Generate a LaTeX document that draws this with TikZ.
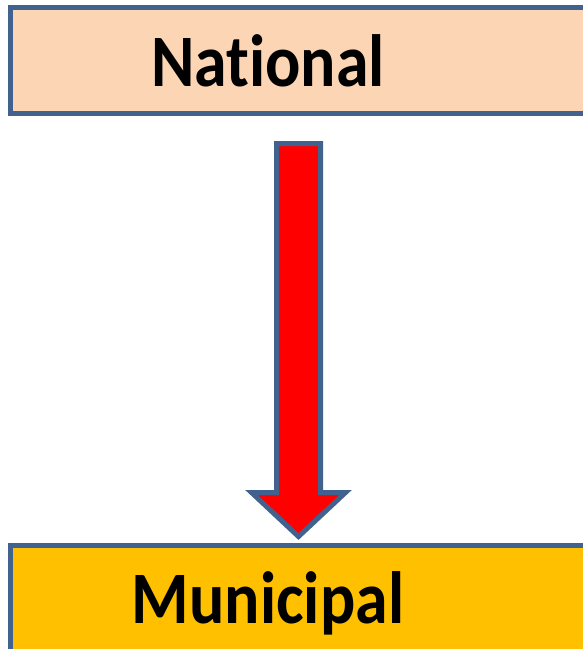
\documentclass[tikz,border=0pt]{standalone}
\usepackage{fontspec}
\setmainfont{Carlito}[RawFeature={-liga;-dlig;-clig}]
\usepackage{tikz}
\usetikzlibrary{calc}

\definecolor{edgeblue}{HTML}{41618E}
\definecolor{peach}{HTML}{FCD5B5}
\definecolor{gold}{HTML}{FFC000}

\begin{document}
\begin{tikzpicture}[x=1pt, y=1pt,
		levelbox/.style={draw=edgeblue, line width=5pt, rectangle, outer sep=0pt, anchor=north west, minimum width=620pt, minimum height=106pt},
		levellabel/.style={anchor=base, inner sep=0pt, xscale=0.89, font=\fontsize{74}{80}\selectfont\bfseries},
		fatarrow/.style={draw=edgeblue, fill=red, line width=5pt, line join=miter}]

		\useasboundingbox (0,0) rectangle (583,-649);

		\node [levelbox, fill=peach] (nat) at (10.5,-7.5) {};
		\node [levelbox, fill=gold] (mun) at (10.5,-545.5) {};

		\node [levellabel] (natText) at (268,-86) {National};
		\node [levellabel] (munText) at (268,-623) {Municipal};

		% arrow from national down to municipal
		\coordinate (top) at ($(nat.south west)+(288,-30)$);
		\coordinate (tip) at ($(mun.north west)+(288,9)$);
		\draw [fatarrow] ([xshift=-22pt]top) -- ([xshift=22pt]top)
			-- ([xshift=22pt, yshift=44pt]tip) -- ([xshift=47pt, yshift=44pt]tip)
			-- (tip) -- ([xshift=-47pt, yshift=44pt]tip)
			-- ([xshift=-22pt, yshift=44pt]tip) -- cycle;

\end{tikzpicture}
\end{document}
